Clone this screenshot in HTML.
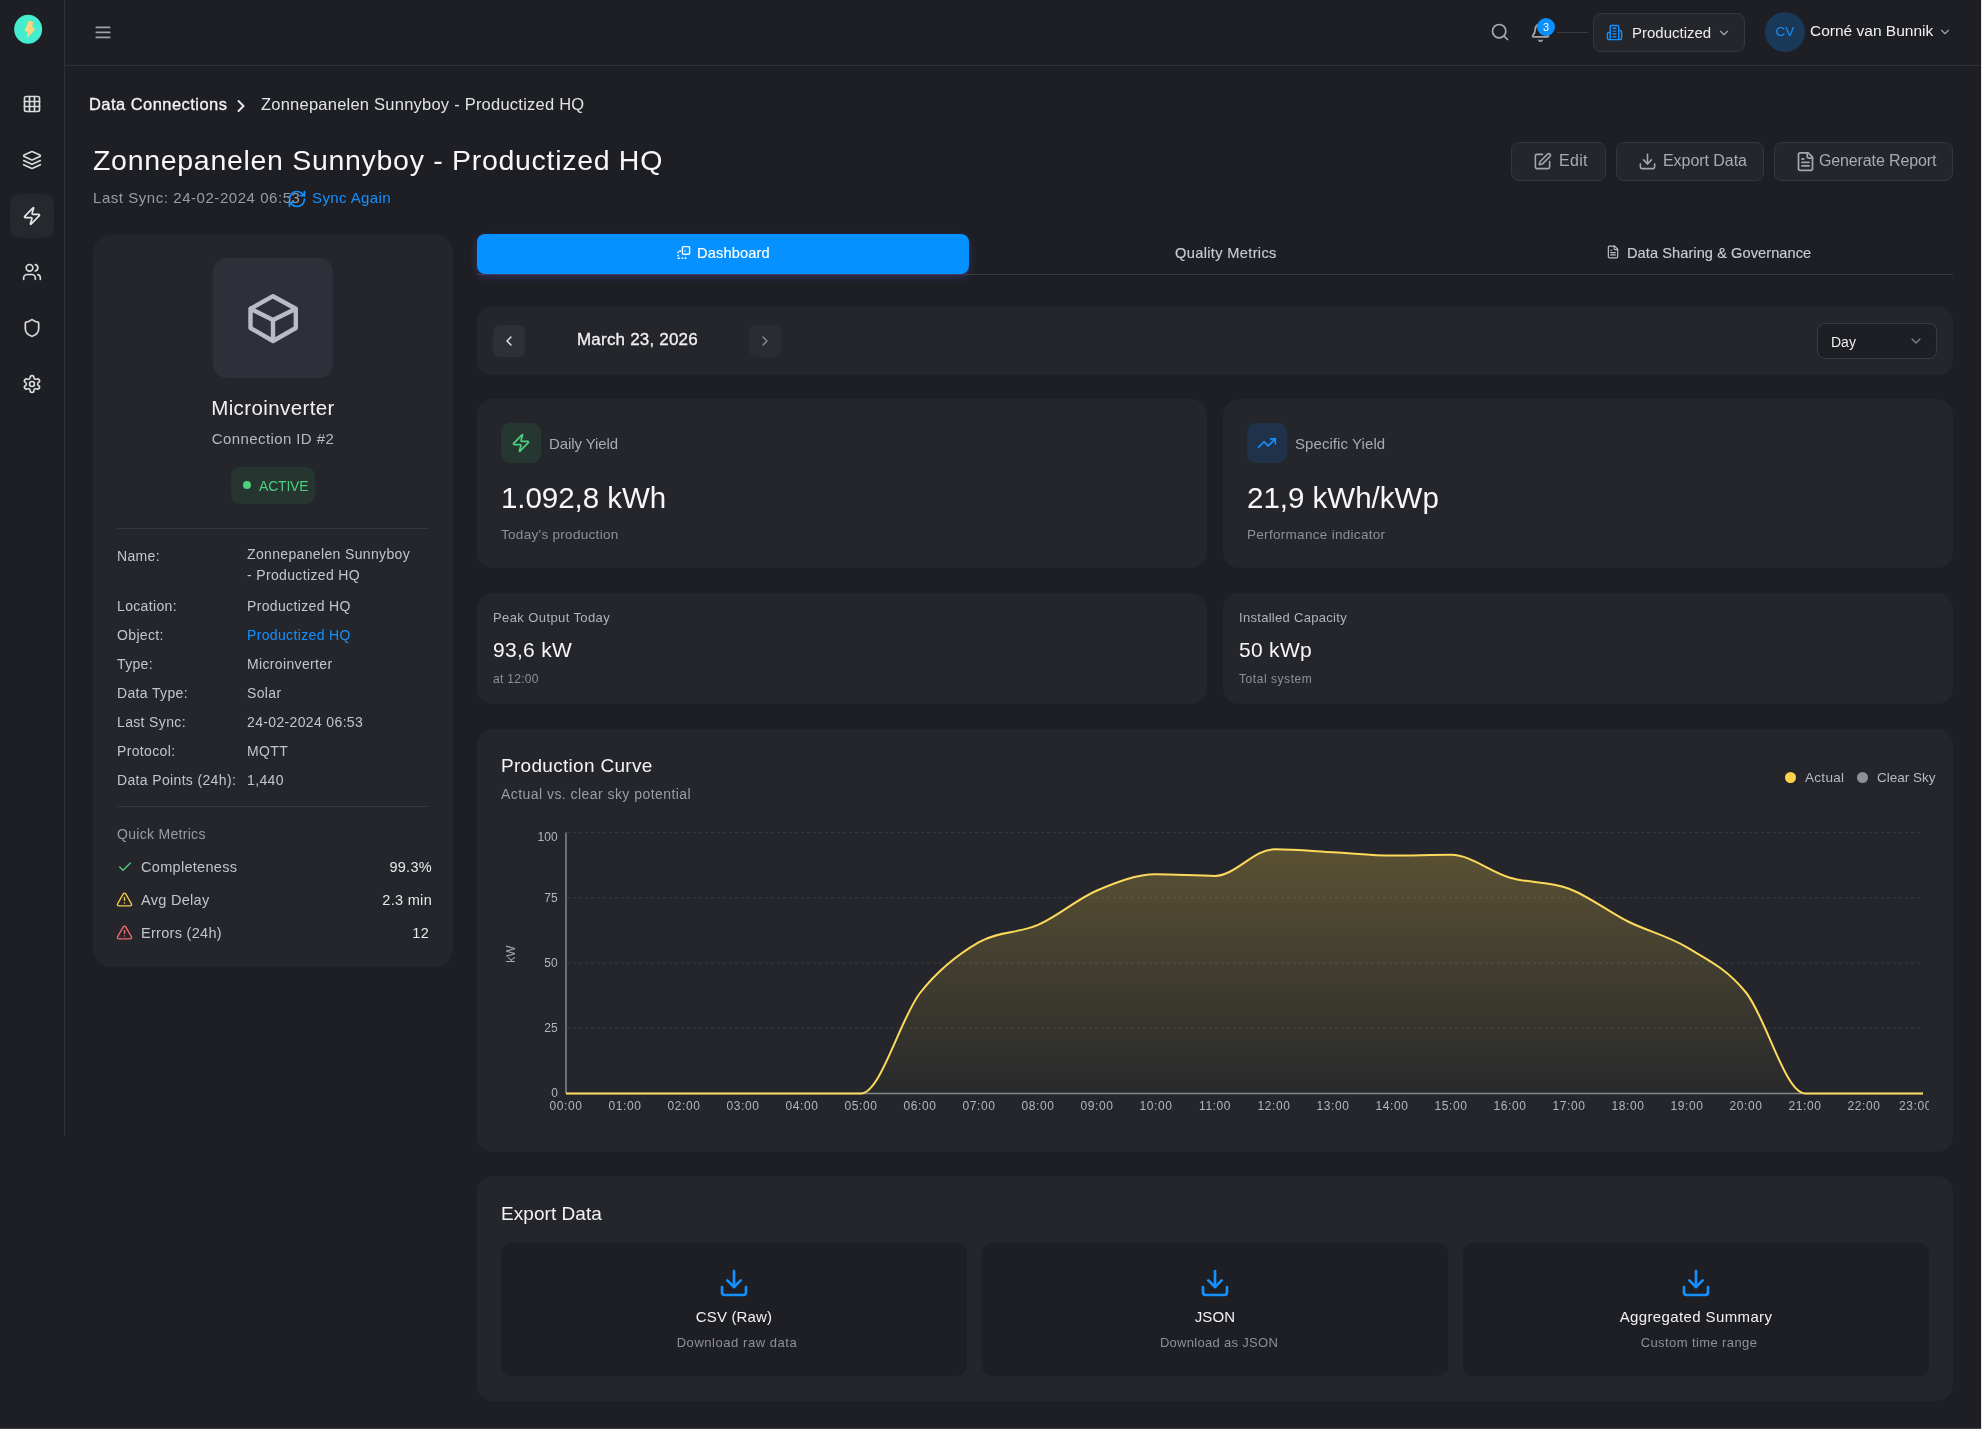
<!DOCTYPE html>
<html><head><meta charset="utf-8"><title>Zonnepanelen Sunnyboy - Productized HQ</title>
<style>
*{box-sizing:border-box;margin:0;padding:0}
html,body{width:1982px;height:1429px;overflow:hidden}
html{background:#1e1f24}
#root{position:absolute;left:0;top:0;width:1982px;height:1429px;will-change:transform}
body{font-family:"Liberation Sans",Arial,sans-serif;color:#ececee;position:relative}
.abs{position:absolute}
svg{display:block}
.t{position:absolute;white-space:nowrap;line-height:1}
.m{-webkit-text-stroke:.3px currentColor}
.m2{-webkit-text-stroke:.15px currentColor}
.sb{position:absolute;left:0;top:0;width:65px;height:1136px;border-right:1px solid #2f3137;background:#1e1f24}
.sbi{position:absolute;left:10px;width:44px;height:44px;border-radius:10px;display:flex;align-items:center;justify-content:center}
.sbi.act{background:#26282d}
.hdr{position:absolute;left:65px;top:0;width:1916px;height:66px;border-bottom:1px solid #2f3137}
.card{position:absolute;background:#24262b;border-radius:16px}
.btn{position:absolute;top:142px;height:39px;border:1px solid #35373d;background:#24262b;border-radius:8px;color:#a9abb1;font-size:16px;letter-spacing:.3px}
.ic{fill:none;stroke:currentColor;stroke-width:2;stroke-linecap:round;stroke-linejoin:round}
.lbl{left:117px;font-size:14px;color:#c3c5ca;letter-spacing:.35px}
.val{left:247px;font-size:14px;color:#c3c5ca;letter-spacing:.35px}
.ex{position:absolute;top:1243px;width:466px;height:133px;background:#1e1f24;border-radius:10px}
</style></head>
<body>
<div id="root">
<!-- sidebar -->
<div class="sb">
  <svg class="abs" style="left:0;top:0" width="60" height="60" viewBox="0 0 60 60"><ellipse cx="28.15" cy="29.3" rx="14" ry="14.5" fill="#45edce"/><path d="M28.6 21.2C29.8 20.9 31.6 21 32.6 21.6C33.3 22.2 33 24.5 32.2 26.8C33.2 27.4 34.3 27.9 34.6 29.2C34.7 30.5 32.4 32.8 30.4 34.6C29.5 35.6 28.6 36.6 27.8 36.9C27 37 26.9 36.3 27.1 35.2L27.8 31.6C26.6 31.4 25.2 31.2 24.8 30.5C24.5 29.9 25.2 28.6 26.1 27.4L27.3 24.2C27.6 22.6 27.9 21.5 28.6 21.2Z" fill="#fdd37c"/></svg>
  <div class="sbi" style="top:82px;color:#d9dadd"><svg class="ic" width="20" height="20" viewBox="0 0 24 24"><rect width="18" height="18" x="3" y="3" rx="2"/><path d="M3 9h18M3 15h18M9 3v18M15 3v18"/></svg></div>
  <div class="sbi" style="top:138px;color:#d9dadd"><svg class="ic" width="20" height="20" viewBox="0 0 24 24"><path d="m12.83 2.18a2 2 0 0 0-1.66 0L2.6 6.08a1 1 0 0 0 0 1.83l8.58 3.91a2 2 0 0 0 1.66 0l8.58-3.9a1 1 0 0 0 0-1.83Z"/><path d="m22 17.65-9.17 4.16a2 2 0 0 1-1.66 0L2 17.65"/><path d="m22 12.65-9.17 4.16a2 2 0 0 1-1.66 0L2 12.65"/></svg></div>
  <div class="sbi act" style="top:194px;color:#e4e5e8"><svg class="ic" width="20" height="20" viewBox="0 0 24 24"><path d="M4 14a1 1 0 0 1-.78-1.63l9.9-10.2a.5.5 0 0 1 .86.46l-1.92 6.02A1 1 0 0 0 13 10h7a1 1 0 0 1 .78 1.63l-9.9 10.2a.5.5 0 0 1-.86-.46l1.92-6.02A1 1 0 0 0 11 14z"/></svg></div>
  <div class="sbi" style="top:250px;color:#d9dadd"><svg class="ic" width="20" height="20" viewBox="0 0 24 24"><path d="M16 21v-2a4 4 0 0 0-4-4H6a4 4 0 0 0-4 4v2"/><circle cx="9" cy="7" r="4"/><path d="M22 21v-2a4 4 0 0 0-3-3.87"/><path d="M16 3.13a4 4 0 0 1 0 7.75"/></svg></div>
  <div class="sbi" style="top:306px;color:#d9dadd"><svg class="ic" width="20" height="20" viewBox="0 0 24 24"><path d="M20 13c0 5-3.5 7.5-7.66 8.95a1 1 0 0 1-.67-.01C7.5 20.5 4 18 4 13V6a1 1 0 0 1 1-1c2 0 4.5-1.2 6.24-2.72a1.170 1.170 0 0 1 1.520 0C14.51 3.81 17 5 19 5a1 1 0 0 1 1 1z"/></svg></div>
  <div class="sbi" style="top:362px;color:#d9dadd"><svg class="ic" width="20" height="20" viewBox="0 0 24 24"><path d="M12.22 2h-.44a2 2 0 0 0-2 2v.18a2 2 0 0 1-1 1.73l-.43.25a2 2 0 0 1-2 0l-.15-.08a2 2 0 0 0-2.73.73l-.22.38a2 2 0 0 0 .73 2.73l.15.1a2 2 0 0 1 1 1.72v.51a2 2 0 0 1-1 1.74l-.15.09a2 2 0 0 0-.73 2.73l.22.38a2 2 0 0 0 2.730.73l.15-.08a2 2 0 0 1 2 0l.43.25a2 2 0 0 1 1 1.73V20a2 2 0 0 0 2 2h.44a2 2 0 0 0 2-2v-.18a2 2 0 0 1 1-1.73l.43-.25a2 2 0 0 1 2 0l.15.08a2 2 0 0 0 2.73-.73l.22-.39a2 2 0 0 0-.73-2.73l-.15-.08a2 2 0 0 1-1-1.74v-.5a2 2 0 0 1 1-1.74l.15-.09a2 2 0 0 0 .73-2.73l-.22-.38a2 2 0 0 0-2.73-.73l-.15.08a2 2 0 0 1-2 0l-.43-.25a2 2 0 0 1-1-1.73V4a2 2 0 0 0-2-2z"/><circle cx="12" cy="12" r="3"/></svg></div>
</div>

<!-- header -->
<div class="hdr"></div>
<svg class="abs" style="left:94px;top:24px" width="18" height="18" viewBox="0 0 18 18"><path d="M2.3 3.4h13.4M2.3 8.4h13.4M2.3 13.4h13.4" stroke="#9fa1a8" stroke-width="1.7" stroke-linecap="round"/></svg>
<svg class="abs ic" style="left:1490px;top:22px;color:#a8aab0" width="20" height="20" viewBox="0 0 24 24"><circle cx="11" cy="11" r="8"/><path d="m21 21-4.3-4.3"/></svg>
<svg class="abs ic" style="left:1530px;top:22.4px;color:#a4a6ac" width="21" height="21" viewBox="0 0 24 24"><path d="M10.268 21a2 2 0 0 0 3.464 0"/><path d="M3.262 15.326A1 1 0 0 0 4 17h16a1 1 0 0 0 .74-1.673C19.41 13.956 18 12.499 18 8A6 6 0 0 0 6 8c0 4.499-1.411 5.956-2.738 7.326"/></svg>
<div class="abs" style="left:1537px;top:18.2px;width:18px;height:18px;border-radius:50%;background:#0a8fff;color:#fff;font-size:11px;line-height:18px;text-align:center">3</div>
<div class="abs" style="left:1557px;top:32px;width:31px;height:1px;background:#393b41"></div>
<div class="abs" style="left:1593px;top:13px;width:152px;height:39px;border:1px solid #36383e;background:#24262b;border-radius:8px"></div>
<svg class="abs ic" style="left:1606px;top:24px;color:#1590ff" width="17" height="17" viewBox="0 0 24 24"><path d="M6 22V4a2 2 0 0 1 2-2h8a2 2 0 0 1 2 2v18Z"/><path d="M6 12H4a2 2 0 0 0-2 2v6a2 2 0 0 0 2 2h2"/><path d="M18 9h2a2 2 0 0 1 2 2v9a2 2 0 0 1-2 2h-2"/><path d="M10 6h4M10 10h4M10 14h4M10 18h4"/></svg>
<div class="t" style="left:1632px;top:25px;font-size:15px;color:#ececee">Productized</div>
<svg class="abs ic" style="left:1716.5px;top:25.5px;color:#a4a6ab" width="14" height="14" viewBox="0 0 24 24"><path d="m6 9 6 6 6-6"/></svg>
<div class="abs" style="left:1765px;top:12px;width:40px;height:40px;border-radius:50%;background:#1a3858;color:#1d8ff0;font-size:13.5px;line-height:40px;text-align:center;letter-spacing:0px">CV</div>
<div class="t" style="left:1810px;top:23px;font-size:15.5px;color:#f2f2f4">Corné van Bunnik</div>
<svg class="abs ic" style="left:1938px;top:25px;color:#a4a6ab" width="14" height="14" viewBox="0 0 24 24"><path d="m6 9 6 6 6-6"/></svg>

<!-- breadcrumb & title -->
<div class="t m" style="left:89px;top:96px;font-size:16.5px;color:#f4f4f6;letter-spacing:.45px">Data Connections</div>
<svg class="abs ic" style="left:231px;top:96px;color:#e4e5e8;stroke-width:2.4" width="20" height="20" viewBox="0 0 24 24"><path d="m9 18 6-6-6-6"/></svg>
<div class="t" style="left:261px;top:96px;font-size:16.5px;color:#e2e3e6;letter-spacing:.23px">Zonnepanelen Sunnyboy - Productized HQ</div>
<div class="t" style="left:93px;top:146px;font-size:28.5px;color:#f7f7f9;letter-spacing:.7px">Zonnepanelen Sunnyboy - Productized HQ</div>
<div class="t" style="left:93px;top:190px;font-size:15px;color:#9a9ca2;letter-spacing:.55px">Last Sync: 24-02-2024 06:53</div>
<svg class="abs ic" style="left:287px;top:189px;color:#1590ff" width="20" height="20" viewBox="0 0 24 24"><path d="M3 12a9 9 0 0 1 9-9 9.75 9.75 0 0 1 6.74 2.74L21 8"/><path d="M21 3v5h-5"/><path d="M21 12a9 9 0 0 1-9 9 9.75 9.75 0 0 1-6.74-2.74L3 16"/><path d="M8 16H3v5"/></svg>
<div class="t" style="left:312px;top:190px;font-size:15px;color:#1590ff;letter-spacing:.4px">Sync Again</div>

<!-- action buttons -->
<div class="btn" style="left:1511px;width:95px"></div>
<svg class="abs ic" style="left:1533px;top:152px;color:#a4a6ab" width="19" height="19" viewBox="0 0 24 24"><path d="M12 3H5a2 2 0 0 0-2 2v14a2 2 0 0 0 2 2h14a2 2 0 0 0 2-2v-7"/><path d="M18.375 2.625a1 1 0 0 1 3 3l-9.013 9.014a2 2 0 0 1-.853.505l-2.873.84a.5.5 0 0 1-.62-.62l.84-2.873a2 2 0 0 1 .506-.852z"/></svg>
<div class="t" style="left:1559px;top:153px;font-size:16px;color:#a9abb1;letter-spacing:.3px">Edit</div>
<div class="btn" style="left:1616px;width:148px"></div>
<svg class="abs ic" style="left:1638px;top:152px;color:#a4a6ab" width="19" height="19" viewBox="0 0 24 24"><path d="M21 15v4a2 2 0 0 1-2 2H5a2 2 0 0 1-2-2v-4"/><path d="M7 10l5 5 5-5"/><path d="M12 15V3"/></svg>
<div class="t" style="left:1663px;top:153px;font-size:16px;color:#a9abb1;letter-spacing:-.05px">Export Data</div>
<div class="btn" style="left:1774px;width:179px"></div>
<svg class="abs ic" style="left:1795px;top:151px;color:#a4a6ab" width="21" height="21" viewBox="0 0 24 24"><path d="M15 2H6a2 2 0 0 0-2 2v16a2 2 0 0 0 2 2h12a2 2 0 0 0 2-2V7Z"/><path d="M14 2v4a2 2 0 0 0 2 2h4"/><path d="M10 9H8M16 13H8M16 17H8"/></svg>
<div class="t" style="left:1819px;top:153px;font-size:16px;color:#a9abb1;letter-spacing:-.13px">Generate Report</div>

<!-- left card -->
<div class="card" style="left:93px;top:235px;width:360px;height:732px;border-radius:18px"></div>
<div class="abs" style="left:213px;top:258px;width:120px;height:120px;border-radius:14px;background:#2e3039"></div>
<svg class="abs" style="left:240px;top:285px" width="66" height="66" viewBox="0 0 66 66"><path d="M33 11.2L55.8 23.8V43L33 56L10.5 43V23.8Z M10.5 23.8L33 35L55.8 23.8 M33 35V56" fill="none" stroke="#b9bcc4" stroke-width="4.4" stroke-linejoin="round" stroke-linecap="round"/></svg>
<div class="t" style="left:93px;width:360px;text-align:center;top:398px;font-size:20.5px;color:#f2f2f4;letter-spacing:.4px">Microinverter</div>
<div class="t" style="left:93px;width:360px;text-align:center;top:431px;font-size:15px;color:#b8bac0;letter-spacing:.4px">Connection ID #2</div>
<div class="abs" style="left:231px;top:467px;width:84px;height:37px;border-radius:9px;background:#26352f"></div>
<div class="abs" style="left:243px;top:481px;width:8px;height:8px;border-radius:50%;background:#4ccf7e"></div>
<div class="t" style="left:259px;top:479px;font-size:14px;color:#4ccf7e;letter-spacing:-.2px">ACTIVE</div>
<div class="abs" style="left:117px;top:528px;width:312px;height:1px;background:#34363c"></div>
<div class="t lbl" style="top:549px">Name:</div>
<div class="t val" style="top:547px">Zonnepanelen Sunnyboy</div>
<div class="t val" style="top:568px">- Productized HQ</div>
<div class="t lbl" style="top:599px">Location:</div><div class="t val" style="top:599px">Productized HQ</div>
<div class="t lbl" style="top:628px">Object:</div><div class="t val" style="top:628px;color:#1590ff">Productized HQ</div>
<div class="t lbl" style="top:657px">Type:</div><div class="t val" style="top:657px">Microinverter</div>
<div class="t lbl" style="top:686px">Data Type:</div><div class="t val" style="top:686px">Solar</div>
<div class="t lbl" style="top:715px">Last Sync:</div><div class="t val" style="top:715px">24-02-2024 06:53</div>
<div class="t lbl" style="top:744px">Protocol:</div><div class="t val" style="top:744px">MQTT</div>
<div class="t lbl" style="top:773px">Data Points (24h):</div><div class="t val" style="top:773px">1,440</div>
<div class="abs" style="left:117px;top:806px;width:312px;height:1px;background:#34363c"></div>
<div class="t" style="left:117px;top:827px;font-size:14px;color:#9a9ca2;letter-spacing:.3px">Quick Metrics</div>
<svg class="abs ic" style="left:117px;top:859px;color:#4ccf7e" width="16" height="16" viewBox="0 0 24 24"><path d="M20 6 9 17l-5-5"/></svg>
<div class="t" style="left:141px;top:860px;font-size:14.5px;color:#c3c5ca;letter-spacing:.3px">Completeness</div>
<div class="t" style="right:1550px;top:860px;font-size:14.5px;color:#e6e7ea;letter-spacing:.3px">99.3%</div>
<svg class="abs ic" style="left:116px;top:891px;color:#f2c94c" width="17" height="17" viewBox="0 0 24 24"><path d="m21.73 18-8-14a2 2 0 0 0-3.48 0l-8 14A2 2 0 0 0 4 21h16a2 2 0 0 0 1.73-3"/><path d="M12 9v4M12 17h.01"/></svg>
<div class="t" style="left:141px;top:893px;font-size:14.5px;color:#c3c5ca;letter-spacing:.3px">Avg Delay</div>
<div class="t" style="right:1550px;top:893px;font-size:14.5px;color:#e6e7ea;letter-spacing:.3px">2.3 min</div>
<svg class="abs ic" style="left:116px;top:924px;color:#ef6b6b" width="17" height="17" viewBox="0 0 24 24"><path d="m21.73 18-8-14a2 2 0 0 0-3.48 0l-8 14A2 2 0 0 0 4 21h16a2 2 0 0 0 1.73-3"/><path d="M12 9v4M12 17h.01"/></svg>
<div class="t" style="left:141px;top:926px;font-size:14.5px;color:#c3c5ca;letter-spacing:.3px">Errors (24h)</div>
<div class="t" style="right:1553px;top:926px;font-size:14.5px;color:#e6e7ea;letter-spacing:.3px">12</div>

<!-- tabs -->
<div class="abs" style="left:477px;top:274px;width:1476px;height:1px;background:#393b41"></div>
<div class="abs" style="left:477px;top:234px;width:492px;height:40px;border-radius:8px;background:#0591ff;box-shadow:0 3px 8px rgba(110,80,230,.28)"></div>
<svg class="abs" style="left:675px;top:244px" width="18" height="18" viewBox="0 0 18 18"><rect x="7.4" y="2.6" width="7.2" height="7.6" rx="1" fill="none" stroke="#fff" stroke-width="1.4"/><path d="M6 7H3.2V14.2H10.6V11.4" fill="none" stroke="#fff" stroke-width="1.4" stroke-dasharray="1.8 1.5"/><path d="M9.6 6.4l1 1" stroke="#fff" stroke-width="1.2"/></svg>
<div class="t m2" style="left:697px;top:246px;font-size:14.6px;color:#fff;letter-spacing:.15px">Dashboard</div>
<div class="t m2" style="left:1175px;top:246px;font-size:14.6px;color:#c9cbd0;letter-spacing:.35px">Quality Metrics</div>
<svg class="abs ic" style="left:1606px;top:245px;color:#c0c2c7" width="14" height="14" viewBox="0 0 24 24"><path d="M15 2H6a2 2 0 0 0-2 2v16a2 2 0 0 0 2 2h12a2 2 0 0 0 2-2V7Z"/><path d="M14 2v4a2 2 0 0 0 2 2h4"/><path d="M10 9H8M16 13H8M16 17H8"/></svg>
<div class="t m2" style="left:1627px;top:246px;font-size:14.6px;color:#c9cbd0;letter-spacing:.07px">Data Sharing &amp; Governance</div>

<!-- date bar -->
<div class="card" style="left:477px;top:307px;width:1476px;height:68px;border-radius:14px"></div>
<div class="abs" style="left:493px;top:325px;width:32px;height:32px;border-radius:7px;background:#2e3038"></div>
<svg class="abs ic" style="left:501px;top:333px;color:#e8e9ec" width="16" height="16" viewBox="0 0 24 24"><path d="m15 18-6-6 6-6"/></svg>
<div class="t m" style="left:577px;top:331px;font-size:17px;color:#f2f2f4;letter-spacing:.2px">March 23, 2026</div>
<div class="abs" style="left:749px;top:325px;width:32px;height:32px;border-radius:7px;background:#2a2c31"></div>
<svg class="abs ic" style="left:757px;top:333px;color:#8d8f95" width="16" height="16" viewBox="0 0 24 24"><path d="m9 18 6-6-6-6"/></svg>
<div class="abs" style="left:1817px;top:323px;width:120px;height:36px;border-radius:8px;background:#1e1f24;border:1px solid #393b43"></div>
<div class="t" style="left:1831px;top:334.5px;font-size:14px;color:#eeeef0">Day</div>
<svg class="abs ic" style="left:1908px;top:333.3px;color:#8d8f95;stroke-width:1.6" width="16" height="16" viewBox="0 0 24 24"><path d="m6 9 6 6 6-6"/></svg>

<!-- stat cards -->
<div class="card" style="left:477px;top:399px;width:730px;height:169px"></div>
<div class="abs" style="left:501px;top:423px;width:40px;height:40px;border-radius:9px;background:#263731"></div>
<svg class="abs ic" style="left:511px;top:433px;color:#4ccf7e" width="20" height="20" viewBox="0 0 24 24"><path d="M4 14a1 1 0 0 1-.78-1.63l9.9-10.2a.5.5 0 0 1 .86.46l-1.92 6.02A1 1 0 0 0 13 10h7a1 1 0 0 1 .78 1.63l-9.9 10.2a.5.5 0 0 1-.86-.46l1.92-6.02A1 1 0 0 0 11 14z"/></svg>
<div class="t" style="left:549px;top:436px;font-size:15px;color:#a9abb1;letter-spacing:-.1px">Daily Yield</div>
<div class="t" style="left:501px;top:483px;font-size:29.5px;color:#f7f7f9;letter-spacing:-.05px">1.092,8 kWh</div>
<div class="t" style="left:501px;top:528px;font-size:13.5px;color:#8e9096;letter-spacing:.3px">Today's production</div>

<div class="card" style="left:1223px;top:399px;width:730px;height:169px"></div>
<div class="abs" style="left:1247px;top:423px;width:40px;height:40px;border-radius:9px;background:#1f3249"></div>
<svg class="abs ic" style="left:1257px;top:433px;color:#1590ff" width="20" height="20" viewBox="0 0 24 24"><path d="M22 7 13.5 15.5 8.5 10.5 2 17"/><path d="M16 7h6v6"/></svg>
<div class="t" style="left:1295px;top:436px;font-size:15px;color:#a9abb1;letter-spacing:.07px">Specific Yield</div>
<div class="t" style="left:1247px;top:483px;font-size:29.5px;color:#f7f7f9;letter-spacing:0px">21,9 kWh/kWp</div>
<div class="t" style="left:1247px;top:528px;font-size:13.5px;color:#8e9096;letter-spacing:.3px">Performance indicator</div>

<div class="card" style="left:477px;top:593px;width:730px;height:111px"></div>
<div class="t" style="left:493px;top:611px;font-size:13px;color:#b1b3b8;letter-spacing:.4px">Peak Output Today</div>
<div class="t" style="left:493px;top:639px;font-size:21px;color:#f7f7f9;letter-spacing:.3px">93,6 kW</div>
<div class="t" style="left:493px;top:673px;font-size:12px;color:#8e9096;letter-spacing:.3px">at 12:00</div>
<div class="card" style="left:1223px;top:593px;width:730px;height:111px"></div>
<div class="t" style="left:1239px;top:611px;font-size:13px;color:#b1b3b8;letter-spacing:.3px">Installed Capacity</div>
<div class="t" style="left:1239px;top:639px;font-size:21px;color:#f7f7f9;letter-spacing:.3px">50 kWp</div>
<div class="t" style="left:1239px;top:673px;font-size:12px;color:#8e9096;letter-spacing:.55px">Total system</div>

<!-- chart card -->
<div class="card" style="left:477px;top:729px;width:1476px;height:423px"></div>
<div class="t" style="left:501px;top:756px;font-size:19px;color:#f4f4f6;letter-spacing:.3px">Production Curve</div>
<div class="t" style="left:501px;top:787px;font-size:14px;color:#9a9ca2;letter-spacing:.45px">Actual vs. clear sky potential</div>
<div class="abs" style="left:1785px;top:772px;width:11px;height:11px;border-radius:50%;background:#fcd34d"></div>
<div class="t" style="left:1805px;top:771px;font-size:13.5px;color:#b8bac0;letter-spacing:.3px">Actual</div>
<div class="abs" style="left:1857px;top:772px;width:11px;height:11px;border-radius:50%;background:#8e9096"></div>
<div class="t" style="left:1877px;top:771px;font-size:13.5px;color:#b8bac0;letter-spacing:0px">Clear Sky</div>
<svg class="abs" style="left:0;top:0" width="1982" height="1429" viewBox="0 0 1982 1429">
<defs><linearGradient id="g" x1="0" y1="832" x2="0" y2="1093" gradientUnits="userSpaceOnUse"><stop offset="0" stop-color="#fcd34d" stop-opacity="0.27"/><stop offset="1" stop-color="#fcd34d" stop-opacity="0.02"/></linearGradient>
<clipPath id="cc"><rect x="480" y="800" width="1449" height="340"/></clipPath></defs>
<line x1="567" x2="1923" y1="1028.2" y2="1028.2" stroke="#3b3d44" stroke-dasharray="3 3"/><line x1="567" x2="1923" y1="963.0" y2="963.0" stroke="#3b3d44" stroke-dasharray="3 3"/><line x1="567" x2="1923" y1="897.8" y2="897.8" stroke="#3b3d44" stroke-dasharray="3 3"/><line x1="567" x2="1923" y1="832.6" y2="832.6" stroke="#3b3d44" stroke-dasharray="3 3"/>
<path d="M566.0,1093.4C585.7,1093.4,605.3,1093.4,625.0,1093.4C644.7,1093.4,664.3,1093.4,684.0,1093.4C703.7,1093.4,723.3,1093.4,743.0,1093.4C762.7,1093.4,782.3,1093.4,802.0,1093.4C821.7,1093.4,841.3,1093.4,861.0,1093.4C880.7,1093.4,900.3,1018.2,920.0,993.0C939.7,967.8,959.3,953.5,979.0,942.1C998.7,930.8,1018.3,933.5,1038.0,924.9C1057.7,916.3,1077.3,898.9,1097.0,890.5C1116.7,882.1,1136.3,874.3,1156.0,874.3C1175.7,874.3,1195.3,875.9,1215.0,875.9C1234.7,875.9,1254.3,849.3,1274.0,849.3C1293.7,849.3,1313.3,851.1,1333.0,852.2C1352.7,853.2,1372.3,855.6,1392.0,855.6C1411.7,855.6,1431.3,854.8,1451.0,854.8C1470.7,854.8,1490.3,872.1,1510.0,877.7C1529.7,883.4,1549.3,881.4,1569.0,888.7C1588.7,896.0,1608.3,911.8,1628.0,921.5C1647.7,931.3,1667.3,935.5,1687.0,947.4C1706.7,959.2,1726.3,968.1,1746.0,992.5C1765.7,1016.8,1785.3,1093.4,1805.0,1093.4C1824.7,1093.4,1844.3,1093.4,1864.0,1093.4C1883.7,1093.4,1903.3,1093.4,1923.0,1093.4L1923,1093.4L566,1093.4Z" fill="url(#g)"/>
<line x1="566" y1="832.6" x2="566" y2="1093.4" stroke="#86888e" stroke-width="1.5"/>
<line x1="566" y1="1093.4" x2="1923" y2="1093.4" stroke="#86888e" stroke-width="1.5"/>
<path d="M566.0,1093.4C585.7,1093.4,605.3,1093.4,625.0,1093.4C644.7,1093.4,664.3,1093.4,684.0,1093.4C703.7,1093.4,723.3,1093.4,743.0,1093.4C762.7,1093.4,782.3,1093.4,802.0,1093.4C821.7,1093.4,841.3,1093.4,861.0,1093.4C880.7,1093.4,900.3,1018.2,920.0,993.0C939.7,967.8,959.3,953.5,979.0,942.1C998.7,930.8,1018.3,933.5,1038.0,924.9C1057.7,916.3,1077.3,898.9,1097.0,890.5C1116.7,882.1,1136.3,874.3,1156.0,874.3C1175.7,874.3,1195.3,875.9,1215.0,875.9C1234.7,875.9,1254.3,849.3,1274.0,849.3C1293.7,849.3,1313.3,851.1,1333.0,852.2C1352.7,853.2,1372.3,855.6,1392.0,855.6C1411.7,855.6,1431.3,854.8,1451.0,854.8C1470.7,854.8,1490.3,872.1,1510.0,877.7C1529.7,883.4,1549.3,881.4,1569.0,888.7C1588.7,896.0,1608.3,911.8,1628.0,921.5C1647.7,931.3,1667.3,935.5,1687.0,947.4C1706.7,959.2,1726.3,968.1,1746.0,992.5C1765.7,1016.8,1785.3,1093.4,1805.0,1093.4C1824.7,1093.4,1844.3,1093.4,1864.0,1093.4C1883.7,1093.4,1903.3,1093.4,1923.0,1093.4" fill="none" stroke="#fdd95c" stroke-width="2"/>
<g font-family="Liberation Sans, Arial, sans-serif" font-size="12" fill="#b4b6bb" letter-spacing="0.2"><text x="558" y="1097.2" text-anchor="end">0</text><text x="558" y="1032.0" text-anchor="end">25</text><text x="558" y="966.8" text-anchor="end">50</text><text x="558" y="901.6" text-anchor="end">75</text><text x="558" y="840.9" text-anchor="end">100</text></g>
<g font-family="Liberation Sans, Arial, sans-serif" font-size="12" fill="#b4b6bb" letter-spacing="0.55" clip-path="url(#cc)"><text x="566.0" y="1110" text-anchor="middle">00:00</text><text x="625.0" y="1110" text-anchor="middle">01:00</text><text x="684.0" y="1110" text-anchor="middle">02:00</text><text x="743.0" y="1110" text-anchor="middle">03:00</text><text x="802.0" y="1110" text-anchor="middle">04:00</text><text x="861.0" y="1110" text-anchor="middle">05:00</text><text x="920.0" y="1110" text-anchor="middle">06:00</text><text x="979.0" y="1110" text-anchor="middle">07:00</text><text x="1038.0" y="1110" text-anchor="middle">08:00</text><text x="1097.0" y="1110" text-anchor="middle">09:00</text><text x="1156.0" y="1110" text-anchor="middle">10:00</text><text x="1215.0" y="1110" text-anchor="middle">11:00</text><text x="1274.0" y="1110" text-anchor="middle">12:00</text><text x="1333.0" y="1110" text-anchor="middle">13:00</text><text x="1392.0" y="1110" text-anchor="middle">14:00</text><text x="1451.0" y="1110" text-anchor="middle">15:00</text><text x="1510.0" y="1110" text-anchor="middle">16:00</text><text x="1569.0" y="1110" text-anchor="middle">17:00</text><text x="1628.0" y="1110" text-anchor="middle">18:00</text><text x="1687.0" y="1110" text-anchor="middle">19:00</text><text x="1746.0" y="1110" text-anchor="middle">20:00</text><text x="1805.0" y="1110" text-anchor="middle">21:00</text><text x="1864.0" y="1110" text-anchor="middle">22:00</text><text x="1915.5" y="1110" text-anchor="middle">23:00</text></g>
<text x="0" y="0" transform="translate(515,954) rotate(-90)" text-anchor="middle" font-family="Liberation Sans, Arial, sans-serif" font-size="12" fill="#a4a6ab">kW</text>
</svg>

<!-- export card -->
<div class="card" style="left:477px;top:1176px;width:1476px;height:225px"></div>
<div class="t" style="left:501px;top:1204px;font-size:19px;color:#f4f4f6;letter-spacing:.05px">Export Data</div>
<div class="ex" style="left:501px"></div>
<div class="ex" style="left:982px"></div>
<div class="ex" style="left:1463px"></div>
<svg class="abs ic" style="left:718px;top:1267px;color:#1590ff" width="32" height="32" viewBox="0 0 24 24"><path d="M21 15v4a2 2 0 0 1-2 2H5a2 2 0 0 1-2-2v-4"/><path d="M7 10l5 5 5-5"/><path d="M12 15V3"/></svg>
<svg class="abs ic" style="left:1199px;top:1267px;color:#1590ff" width="32" height="32" viewBox="0 0 24 24"><path d="M21 15v4a2 2 0 0 1-2 2H5a2 2 0 0 1-2-2v-4"/><path d="M7 10l5 5 5-5"/><path d="M12 15V3"/></svg>
<svg class="abs ic" style="left:1680px;top:1267px;color:#1590ff" width="32" height="32" viewBox="0 0 24 24"><path d="M21 15v4a2 2 0 0 1-2 2H5a2 2 0 0 1-2-2v-4"/><path d="M7 10l5 5 5-5"/><path d="M12 15V3"/></svg>
<div class="t" style="left:501px;width:466px;text-align:center;top:1309px;font-size:15px;color:#f2f2f4;letter-spacing:.15px">CSV (Raw)</div>
<div class="t" style="left:504px;width:466px;text-align:center;top:1336px;font-size:13px;color:#8e9096;letter-spacing:.55px">Download raw data</div>
<div class="t" style="left:982px;width:466px;text-align:center;top:1309px;font-size:15px;color:#f2f2f4;letter-spacing:.15px">JSON</div>
<div class="t" style="left:986px;width:466px;text-align:center;top:1336px;font-size:13px;color:#8e9096;letter-spacing:.3px">Download as JSON</div>
<div class="t" style="left:1463px;width:466px;text-align:center;top:1309px;font-size:15px;color:#f2f2f4;letter-spacing:.38px">Aggregated Summary</div>
<div class="t" style="left:1466px;width:466px;text-align:center;top:1336px;font-size:13px;color:#8e9096;letter-spacing:.4px">Custom time range</div>

<div class="abs" style="left:1981px;top:0;width:1px;height:1429px;background:#e9e9ea"></div>
<div class="abs" style="left:0;top:1428px;width:1981px;height:1px;background:#3c3e45"></div>
</div>
</body></html>
